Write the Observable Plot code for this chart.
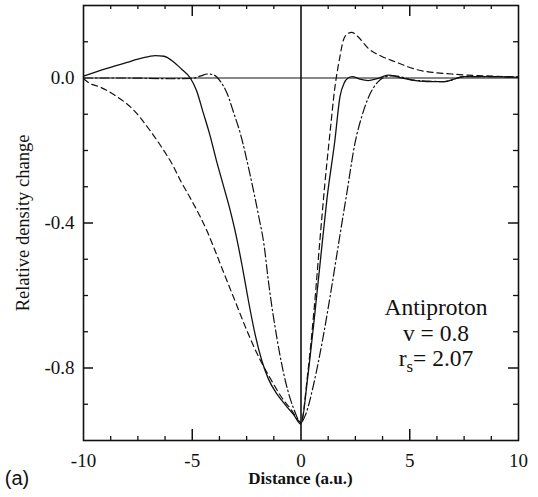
<!DOCTYPE html>
<html>
<head>
<meta charset="utf-8">
<style>
  html, body { margin: 0; padding: 0; background: #fff; }
  #chart svg { display: block; }
</style>
<script src="https://cdn.jsdelivr.net/npm/d3@7"></script>
<script src="https://cdn.jsdelivr.net/npm/@observablehq/plot@0.6"></script>
</head>
<body>
<div id="chart"></div>
<script>
// ---- tick values and labels ----
const xTickValues = [-10, -5, 0, 5, 10];
const xTickLabels = ["-10", "-5", "0", "5", "10"];
const xMinorTicks = [-8.75, -7.5, -6.25, -3.75, -2.5, -1.25, 1.25, 2.5, 3.75, 6.25, 7.5, 8.75];
const xMajorInner = [-5, 5];
const yTickValues = [0, -0.4, -0.8];
const yTickLabels = ["0.0", "-0.4", "-0.8"];
const yMinorTicks = [0.1, -0.1, -0.2, -0.3, -0.5, -0.6, -0.7, -0.9];
const yMajorInner = [-0.4, -0.8];

// ---- series ----
const solidX = [-10, -9, -8, -7.5, -7, -6.7, -6.3, -5.87, -5.5, -5.09, -4.8, -4.5, -4.2, -3.9, -3.6, -3.3, -3.0, -2.7, -2.4, -2.1, -1.8, -1.5, -1.1, -0.7, -0.35, 0, 0.3, 0.6, 0.95, 1.2, 1.56, 1.79, 2.0, 2.17, 2.35, 2.7, 3.09, 3.5, 4.01, 4.5, 5.09, 5.8, 6.62, 7.1, 7.5, 8.5, 10];
const solidY = [0.005, 0.025, 0.043, 0.052, 0.059, 0.062, 0.06, 0.045, 0.025, 0.0, -0.035, -0.095, -0.155, -0.225, -0.29, -0.355, -0.43, -0.52, -0.62, -0.71, -0.78, -0.83, -0.872, -0.903, -0.928, -0.955, -0.83, -0.67, -0.47, -0.33, -0.171, -0.052, -0.012, 0.0, 0.004, -0.003, -0.007, -0.002, 0.008, 0.002, -0.006, -0.01, -0.01, -0.002, 0.004, 0.004, 0.002];

const dashedX = [-10, -9.7, -9.24, -8.5, -7.7, -7, -6.32, -5.9, -5.55, -5.1, -4.63, -4.3, -4.02, -3.5, -3.0, -2.5, -1.9, -1.4, -0.9, -0.45, 0, 0.3, 0.6, 0.87, 1.1, 1.33, 1.55, 1.79, 1.95, 2.15, 2.33, 2.6, 3.09, 3.7, 4.32, 5.39, 6.92, 8.45, 10];
const dashedY = [-0.002, -0.015, -0.025, -0.05, -0.088, -0.14, -0.199, -0.24, -0.282, -0.33, -0.383, -0.425, -0.466, -0.545, -0.62, -0.695, -0.775, -0.83, -0.88, -0.915, -0.95, -0.82, -0.64, -0.447, -0.29, -0.153, -0.03, 0.059, 0.105, 0.122, 0.126, 0.115, 0.082, 0.06, 0.045, 0.022, 0.011, 0.006, 0.003];

const dashDotX = [-10, -8, -6, -5, -4.6, -4.3, -4.0, -3.7, -3.4, -3.1, -2.79, -2.33, -1.95, -1.7, -1.5, -1.1, -0.7, -0.35, 0, 0.2, 0.6, 1.0, 1.4, 1.8, 2.1, 2.48, 2.8, 3.09, 3.55, 4.01, 4.3, 5.1, 6.0, 6.6, 7.5, 8.5, 10];
const dashDotY = [0.0, 0.0, -0.002, -0.001, 0.006, 0.011, 0.008, -0.01, -0.042, -0.095, -0.153, -0.27, -0.38, -0.46, -0.56, -0.72, -0.84, -0.91, -0.95, -0.93, -0.84, -0.72, -0.58, -0.43, -0.32, -0.18, -0.105, -0.055, -0.01, 0.005, 0.006, -0.005, -0.009, -0.01, 0.004, 0.004, 0.002];

const toRows = (xs, ys) => xs.map((x, i) => ({x, y: ys[i]}));
const solid = toRows(solidX, solidY);
const dashed = toRows(dashedX, dashedY);
const dashDot = toRows(dashDotX, dashDotY);

const W = 538, H = 497;
const mL = 83, mR = 20, mT = 5, mB = 57;
const pw = W - mL - mR, ph = H - mT - mB;
const ink = "#111";
const serif = "'Liberation Serif', 'Times New Roman', Times, serif";

const chart = Plot.plot({
  width: W, height: H,
  marginLeft: mL, marginRight: mR, marginTop: mT, marginBottom: mB,
  style: {fontFamily: serif, fontSize: "19px", background: "#fff", color: ink},
  x: {domain: [-10, 10], label: null},
  y: {domain: [-1.0, 0.2], label: null},
  marks: [
    Plot.ruleY([0], {stroke: ink, strokeWidth: 1}),
    Plot.ruleX([0], {stroke: ink, strokeWidth: 1.6}),
    // inward ticks: bottom / top
    Plot.tickX(xMinorTicks, {x: d => d, insetTop: ph - 4, stroke: ink, strokeWidth: 1.3}),
    Plot.tickX(xMinorTicks, {x: d => d, insetBottom: ph - 4, stroke: ink, strokeWidth: 1.3}),
    Plot.tickX(xMajorInner, {x: d => d, insetTop: ph - 11, stroke: ink, strokeWidth: 1.5}),
    Plot.tickX(xMajorInner, {x: d => d, insetBottom: ph - 11, stroke: ink, strokeWidth: 1.5}),
    // inward ticks: left / right
    Plot.tickY(yMinorTicks, {y: d => d, insetRight: pw - 5, stroke: ink, strokeWidth: 1.3}),
    Plot.tickY(yMinorTicks, {y: d => d, insetLeft: pw - 5, stroke: ink, strokeWidth: 1.3}),
    Plot.tickY(yMajorInner, {y: d => d, insetRight: pw - 10, stroke: ink, strokeWidth: 1.5}),
    Plot.tickY(yMajorInner, {y: d => d, insetLeft: pw - 10, stroke: ink, strokeWidth: 1.5}),
    Plot.axisX(xTickValues, {tickSize: 0, tickPadding: 12.5, fontSize: 19,
      tickFormat: d => xTickLabels[xTickValues.indexOf(d)], label: null}),
    Plot.axisY(yTickValues, {tickSize: 0, tickPadding: 9, fontSize: 19,
      tickFormat: d => yTickLabels[yTickValues.indexOf(d)], label: null}),
    Plot.line(dashed, {x: "x", y: "y", curve: "monotone-x", stroke: ink, strokeWidth: 1.2, strokeDasharray: "6,4"}),
    Plot.line(dashDot, {x: "x", y: "y", curve: "monotone-x", stroke: ink, strokeWidth: 1.2, strokeDasharray: "9,3,1.5,3"}),
    Plot.line(solid, {x: "x", y: "y", curve: "monotone-x", stroke: ink, strokeWidth: 1.3}),
    Plot.frame({stroke: ink, strokeWidth: 1.6})
  ]
});

document.getElementById("chart").appendChild(chart);

const svg = d3.select(chart);
const sx = chart.scale("x");

// y-axis title
svg.append("text")
  .attr("transform", `translate(29, ${(mT + H - mB) / 2 + 0.5}) rotate(-90)`)
  .attr("text-anchor", "middle")
  .attr("font-family", serif)
  .attr("font-size", 18.5)
  .attr("fill", ink)
  .text("Relative density change");

// x-axis title
svg.append("text")
  .attr("x", sx.apply(0))
  .attr("y", 484)
  .attr("text-anchor", "middle")
  .attr("font-family", serif)
  .attr("font-weight", "bold")
  .attr("font-size", 17)
  .attr("fill", ink)
  .text("Distance (a.u.)");

// panel label
svg.append("text")
  .attr("x", 17)
  .attr("y", 485)
  .attr("font-family", "'Liberation Sans', Arial, sans-serif")
  .attr("font-size", 20)
  .attr("fill", ink)
  .text("(a)");

// annotation
const ann = svg.append("g")
  .attr("font-family", serif)
  .attr("font-size", 23.5)
  .attr("fill", ink)
  .attr("text-anchor", "middle");
const ax = 436;
ann.append("text").attr("x", ax).attr("y", 315).text("Antiproton");
ann.append("text").attr("x", ax).attr("y", 341).text("v = 0.8");
const t3 = ann.append("text").attr("x", ax).attr("y", 366);
t3.append("tspan").text("r");
t3.append("tspan").attr("font-size", 17).attr("dy", 6).text("s");
t3.append("tspan").attr("dy", -6).text("= 2.07");
</script>
</body>
</html>
